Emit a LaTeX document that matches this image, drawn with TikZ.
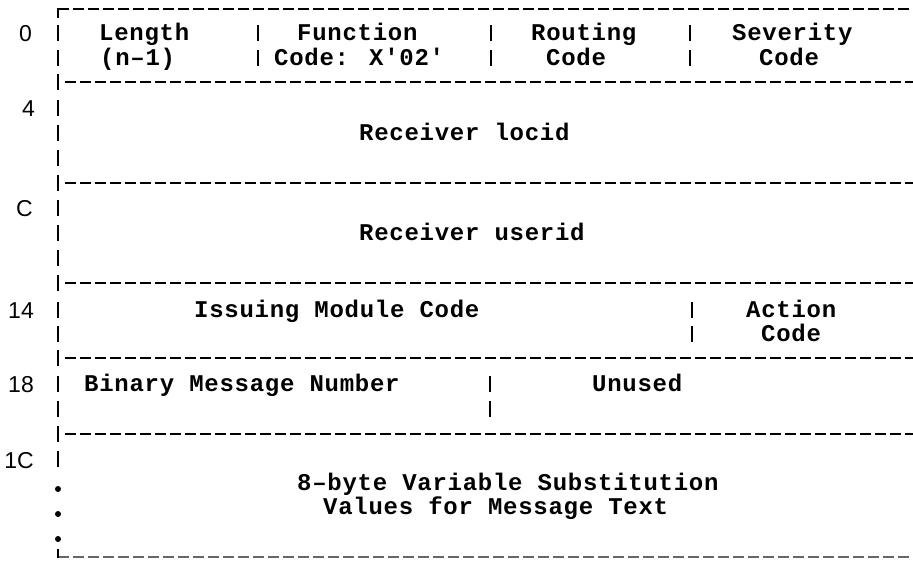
\documentclass[tikz,border=0pt]{standalone}
\usepackage{fontspec}
\newfontfamily\tw{Liberation Mono}[LetterSpace=3,Ligatures=TeXOff]
\newfontfamily\lbl{Liberation Sans}
\begin{document}
\begin{tikzpicture}[x=1pt,y=-1pt,
  txt/.style={inner sep=0pt, anchor=base west, font=\tw\bfseries\fontsize{24}{26}\selectfont},
  lab/.style={inner sep=0pt, anchor=base east, font=\lbl\fontsize{23}{25}\selectfont},
  rule/.style={line width=2.6pt, dash pattern=on 11pt off 4pt},
  bar/.style={line width=2.8pt}]
\useasboundingbox (0,0) rectangle (913,562);
% horizontal rules
\draw[rule] (58,9) -- (913,9);
\draw[bar] (58,8) -- (58,18);
\foreach \yy in {82,183,283,358,434}
  \draw[rule] (65,\yy) -- (913,\yy);
\draw[rule, line width=2pt, black!60] (58,557) -- (913,557);
\draw[bar] (58,549) -- (58,558);
% left border bars
\foreach \yy in {33,58,82,108,133,158,183,208,233,258,283,310,334,358,384,409,434,459}
  \draw[bar] (58,\yy-8) -- (58,\yy+8);
\foreach \yy in {489,514,539}
  \fill (58,\yy) circle (3);
% column dividers
\foreach \xx in {258,491,690}
  \foreach \yy in {33,58}
    \draw[bar] (\xx,\yy-8) -- (\xx,\yy+8);
\foreach \yy in {310,334}
  \draw[bar] (692,\yy-8) -- (692,\yy+8);
\foreach \yy in {384,409}
  \draw[bar] (490,\yy-8) -- (490,\yy+8);
% offset labels
\node[lab] (o0) at (32,41) {0};
\node[lab] (o4) at (35,116) {4};
\node[lab] (oC) at (33,216) {C};
\node[lab] (o14) at (34,318) {14};
\node[lab] (o18) at (34,392) {18};
\node[lab] (o1C) at (34,468) {1C};
% row 0
\node[txt] (len) at (99,40) {Length};
\node[txt] (len2) at (100,65) {(n–1)};
\node[txt] (fun) at (297,40) {Function};
\node[txt] (fun2) at (274,65) {Code: X'02'};
\node[txt] (rou) at (531,40) {Routing};
\node[txt] (rou2) at (546,65) {Code};
\node[txt] (sev) at (732,40) {Severity};
\node[txt] (sev2) at (759,65) {Code};
% row 4, C
\node[txt] (loc) at (359,140) {Receiver locid};
\node[txt] (usr) at (359,240) {Receiver userid};
% row 14
\node[txt] (imc) at (194,317) {Issuing Module Code};
\node[txt] (act) at (746,317) {Action};
\node[txt] (act2) at (761,341) {Code};
% row 18
\node[txt] (bmn) at (84,391) {Binary Message Number};
\node[txt] (unu) at (592,391) {Unused};
% row 1C
\node[txt] (var) at (297,490) {8–byte Variable Substitution};
\node[txt] (var2) at (323,514) {Values for Message Text};
\end{tikzpicture}
\end{document}
